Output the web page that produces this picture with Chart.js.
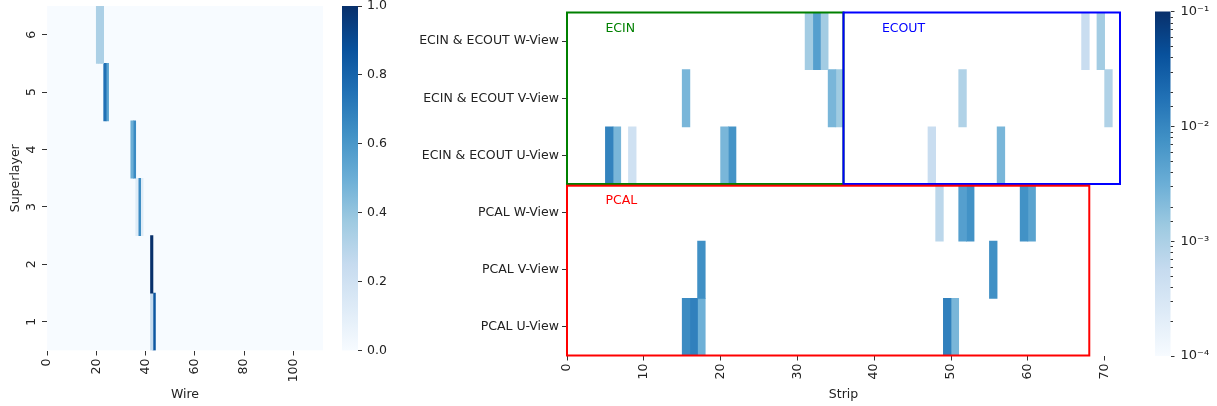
<!DOCTYPE html>
<html>
<head>
<meta charset="utf-8">
<script src="https://cdn.jsdelivr.net/npm/chart.js@4.4.1/dist/chart.umd.min.js"></script>
<style>
html, body { margin: 0; padding: 0; background: #fff; width: 1217px; height: 406px; overflow: hidden; }
canvas { position: absolute; top: 0; }
</style>
</head>
<body>
<canvas id="dcChart" width="335" height="406" style="left:0px"></canvas>
<canvas id="dcBar" width="60" height="406" style="left:330px"></canvas>
<canvas id="calChart" width="755" height="406" style="left:380px"></canvas>
<canvas id="calBar" width="77" height="406" style="left:1140px"></canvas>
<script>
// drift chamber occupancy (left)
const superlayers = ['1', '2', '3', '4', '5', '6'];
const wireCount = 112;
const dcLayer = [6, 6, 6, 5, 5, 4, 4, 3, 3, 3, 2, 1, 1];
const dcWire = [20, 21, 22, 23, 24, 34, 35, 36, 37, 38, 42, 42, 43];
const dcValue = [0.33, 0.33, 0.33, 0.75, 0.55, 0.5, 0.65, 0.12, 0.65, 0.12, 1.0, 0.25, 0.85];

// calorimeter strips (right)
const views = ['ECIN & ECOUT W-View', 'ECIN & ECOUT V-View', 'ECIN & ECOUT U-View',
               'PCAL W-View', 'PCAL V-View', 'PCAL U-View'];
const stripCount = 72;
const calView = [0, 0, 0, 0, 0, 1, 1, 1, 1, 1, 2, 2, 2, 2, 2, 2, 2, 3, 3, 3, 3, 3, 4, 4, 5, 5, 5, 5, 5];
const calStrip = [31, 32, 33, 67, 69, 15, 34, 35, 51, 70, 5, 6, 8, 20, 21, 47, 56, 48, 51, 52, 59, 60, 17, 55, 15, 16, 17, 49, 50];
const calValue = [1.2e-3, 5e-3, 1.2e-3, 5e-4, 1.2e-3,
                  2.5e-3, 2.5e-3, 1.3e-3, 9e-4, 9e-4,
                  1.1e-2, 2.5e-3, 4e-4, 2.5e-3, 7e-3, 5e-4, 2.5e-3,
                  7e-4, 5e-3, 7.5e-3, 7.5e-3, 4.5e-3,
                  8e-3, 8e-3,
                  9e-3, 1.2e-2, 3e-3, 1.2e-2, 2.5e-3];

// detector boxes drawn over the strips
const boxNames = ['ECIN', 'ECOUT', 'PCAL'];
const boxStrips = [[0, 36], [36, 72], [0, 68]];
const boxRows = [[0, 3], [0, 3], [3.03, 6]];
const boxColors = ['green', 'blue', 'red'];
const boxLabelAt = [[5, 0.34], [41, 0.34], [5, 3.35]];

const blues = ['#f7fbff', '#deebf7', '#c6dbef', '#9ecae1', '#6baed6', '#4292c6', '#2171b5', '#08519c', '#08306b'];

function hexRgb(c) {
    return [1, 3, 5].map(i => parseInt(c.substr(i, 2), 16));
}

function bluesAt(t) {
    t = Math.min(1, Math.max(0, t));
    const p = t * 8;
    const i = Math.min(7, Math.floor(p));
    const f = p - i;
    const a = hexRgb(blues[i]), b = hexRgb(blues[i + 1]);
    return 'rgb(' + a.map((v, k) => Math.round(v + (b[k] - v) * f)).join(',') + ')';
}

const logT = v => (Math.log10(v) + 4) / 3;

Chart.defaults.font.family = 'DejaVu Sans';
Chart.defaults.font.size = 12.5;
Chart.defaults.color = '#222';
Chart.defaults.animation = false;
Chart.defaults.plugins.legend.display = false;
Chart.defaults.plugins.tooltip.enabled = false;

const tickGrid = { drawOnChartArea: false, drawTicks: true, tickLength: 5, color: '#333', offset: false };

// ---- left heatmap (hits first so they sit on top, zero background last)
const dcSets = dcWire.map((w, i) => ({
    data: [{ y: String(dcLayer[i]), x: [w, w + 1] }],
    backgroundColor: bluesAt(dcValue[i])
}));
dcSets.push({ data: superlayers.map(s => ({ y: s, x: [0, wireCount] })), backgroundColor: bluesAt(0) });

new Chart(document.getElementById('dcChart'), {
    type: 'bar',
    data: { labels: superlayers, datasets: dcSets },
    options: {
        responsive: false,
        indexAxis: 'y',
        layout: { padding: { top: 6, right: 12 } },
        datasets: { bar: { grouped: false, barPercentage: 1, categoryPercentage: 1, borderWidth: 0 } },
        scales: {
            y: {
                type: 'category', reverse: true, offset: true,
                grid: tickGrid, border: { display: false },
                ticks: { minRotation: 90, maxRotation: 90, crossAlign: 'center', padding: 6 },
                title: { display: true, text: 'Superlayer', padding: { top: 8, bottom: 4 } },
                afterFit: s => { s.width = 47; s.paddingTop = 0; s.paddingBottom = 0; }
            },
            x: {
                type: 'linear', min: 0, max: wireCount,
                grid: tickGrid, border: { display: false },
                ticks: { stepSize: 20, includeBounds: false, minRotation: 90, maxRotation: 90, padding: 3 },
                title: { display: true, text: 'Wire' },
                afterFit: s => { s.height = 55.5; }
            }
        }
    }
});

// ---- right heatmap
const calSets = calStrip.map((s, i) => ({
    data: [{ y: views[calView[i]], x: [s, s + 1] }],
    backgroundColor: bluesAt(logT(calValue[i]))
}));

const boxPlugin = {
    id: 'boxes',
    afterDatasetsDraw(chart) {
        const { ctx, scales: { x, y } } = chart;
        ctx.save();
        boxNames.forEach((name, i) => {
            const x0 = x.getPixelForValue(boxStrips[i][0]);
            const x1 = x.getPixelForValue(boxStrips[i][1]);
            const y0 = y.getPixelForValue(boxRows[i][0] - 0.5);
            const y1 = y.getPixelForValue(boxRows[i][1] - 0.5);
            ctx.strokeStyle = boxColors[i];
            ctx.lineWidth = 2;
            ctx.strokeRect(x0, y0, x1 - x0, y1 - y0);
            ctx.fillStyle = boxColors[i];
            ctx.font = '12.5px "DejaVu Sans"';
            ctx.textAlign = 'left';
            ctx.textBaseline = 'alphabetic';
            ctx.fillText(name, x.getPixelForValue(boxLabelAt[i][0]), y.getPixelForValue(boxLabelAt[i][1] - 0.5));
        });
        ctx.restore();
    }
};

new Chart(document.getElementById('calChart'), {
    type: 'bar',
    data: { labels: views, datasets: calSets },
    options: {
        responsive: false,
        indexAxis: 'y',
        layout: { padding: { top: 12.5, right: 15 } },
        datasets: { bar: { grouped: false, barPercentage: 1, categoryPercentage: 1, borderWidth: 0 } },
        scales: {
            y: {
                type: 'category', offset: true,
                grid: tickGrid, border: { display: false },
                ticks: { padding: 3 },
                afterFit: s => { s.width = 187; s.paddingTop = 0; s.paddingBottom = 0; }
            },
            x: {
                type: 'linear', min: 0, max: stripCount,
                grid: tickGrid, border: { display: false },
                ticks: { stepSize: 10, includeBounds: false, minRotation: 90, maxRotation: 90, padding: 3 },
                title: { display: true, text: 'Strip' },
                afterFit: s => { s.height = 50.5; }
            }
        }
    },
    plugins: [boxPlugin]
});

// ---- colorbars
const gradientPlugin = {
    id: 'gradient',
    beforeDatasetsDraw(chart) {
        const { ctx, chartArea: a } = chart;
        const g = ctx.createLinearGradient(0, a.bottom, 0, a.top);
        blues.forEach((c, i) => g.addColorStop(i / 8, c));
        ctx.fillStyle = g;
        ctx.fillRect(a.left, a.top, a.right - a.left, a.bottom - a.top);
    }
};

new Chart(document.getElementById('dcBar'), {
    type: 'scatter',
    data: { datasets: [] },
    options: {
        responsive: false,
        layout: { padding: { top: 6, left: 12, bottom: 55.5 } },
        scales: {
            x: { display: false },
            y: {
                type: 'linear', position: 'right', min: 0, max: 1,
                grid: { drawOnChartArea: false, tickLength: 4, color: '#333' }, border: { display: false },
                ticks: { stepSize: 0.2, padding: 5, callback: v => v.toFixed(1) },
                afterFit: s => { s.width = 32; s.paddingTop = 0; s.paddingBottom = 0; }
            }
        }
    },
    plugins: [gradientPlugin]
});

const supers = { '-': '\u207B', '1': '\u00B9', '2': '\u00B2', '3': '\u00B3', '4': '\u2074' };
const isDecade = v => Math.abs(Math.log10(v) - Math.round(Math.log10(v))) < 1e-6;

const minorTickPlugin = {
    id: 'minorTicks',
    afterDraw(chart) {
        const { ctx, scales: { y } } = chart;
        ctx.save();
        ctx.strokeStyle = '#333';
        ctx.lineWidth = 1;
        y.ticks.forEach(t => {
            if (isDecade(t.value)) return;
            const py = Math.round(y.getPixelForValue(t.value)) + 0.5;
            ctx.beginPath();
            ctx.moveTo(y.left, py);
            ctx.lineTo(y.left + 2.5, py);
            ctx.stroke();
        });
        ctx.restore();
    }
};

new Chart(document.getElementById('calBar'), {
    type: 'scatter',
    data: { datasets: [] },
    options: {
        responsive: false,
        layout: { padding: { top: 11.5, left: 15, bottom: 50 } },
        scales: {
            x: { display: false },
            y: {
                type: 'logarithmic', position: 'right', min: 1e-4, max: 1e-1,
                grid: {
                    drawOnChartArea: false, tickLength: 4,
                    color: c => (c.tick && isDecade(c.tick.value)) ? '#333' : 'rgba(0,0,0,0)'
                },
                border: { display: false },
                ticks: {
                    autoSkip: false, padding: 6,
                    font: { size: 13 },
                    callback: v => isDecade(v)
                        ? '10' + String(Math.round(Math.log10(v))).split('').map(ch => supers[ch]).join('')
                        : ''
                },
                afterFit: s => { s.width = 46.5; s.paddingTop = 0; s.paddingBottom = 0; }
            }
        }
    },
    plugins: [gradientPlugin, minorTickPlugin]
});
</script>
</body>
</html>
